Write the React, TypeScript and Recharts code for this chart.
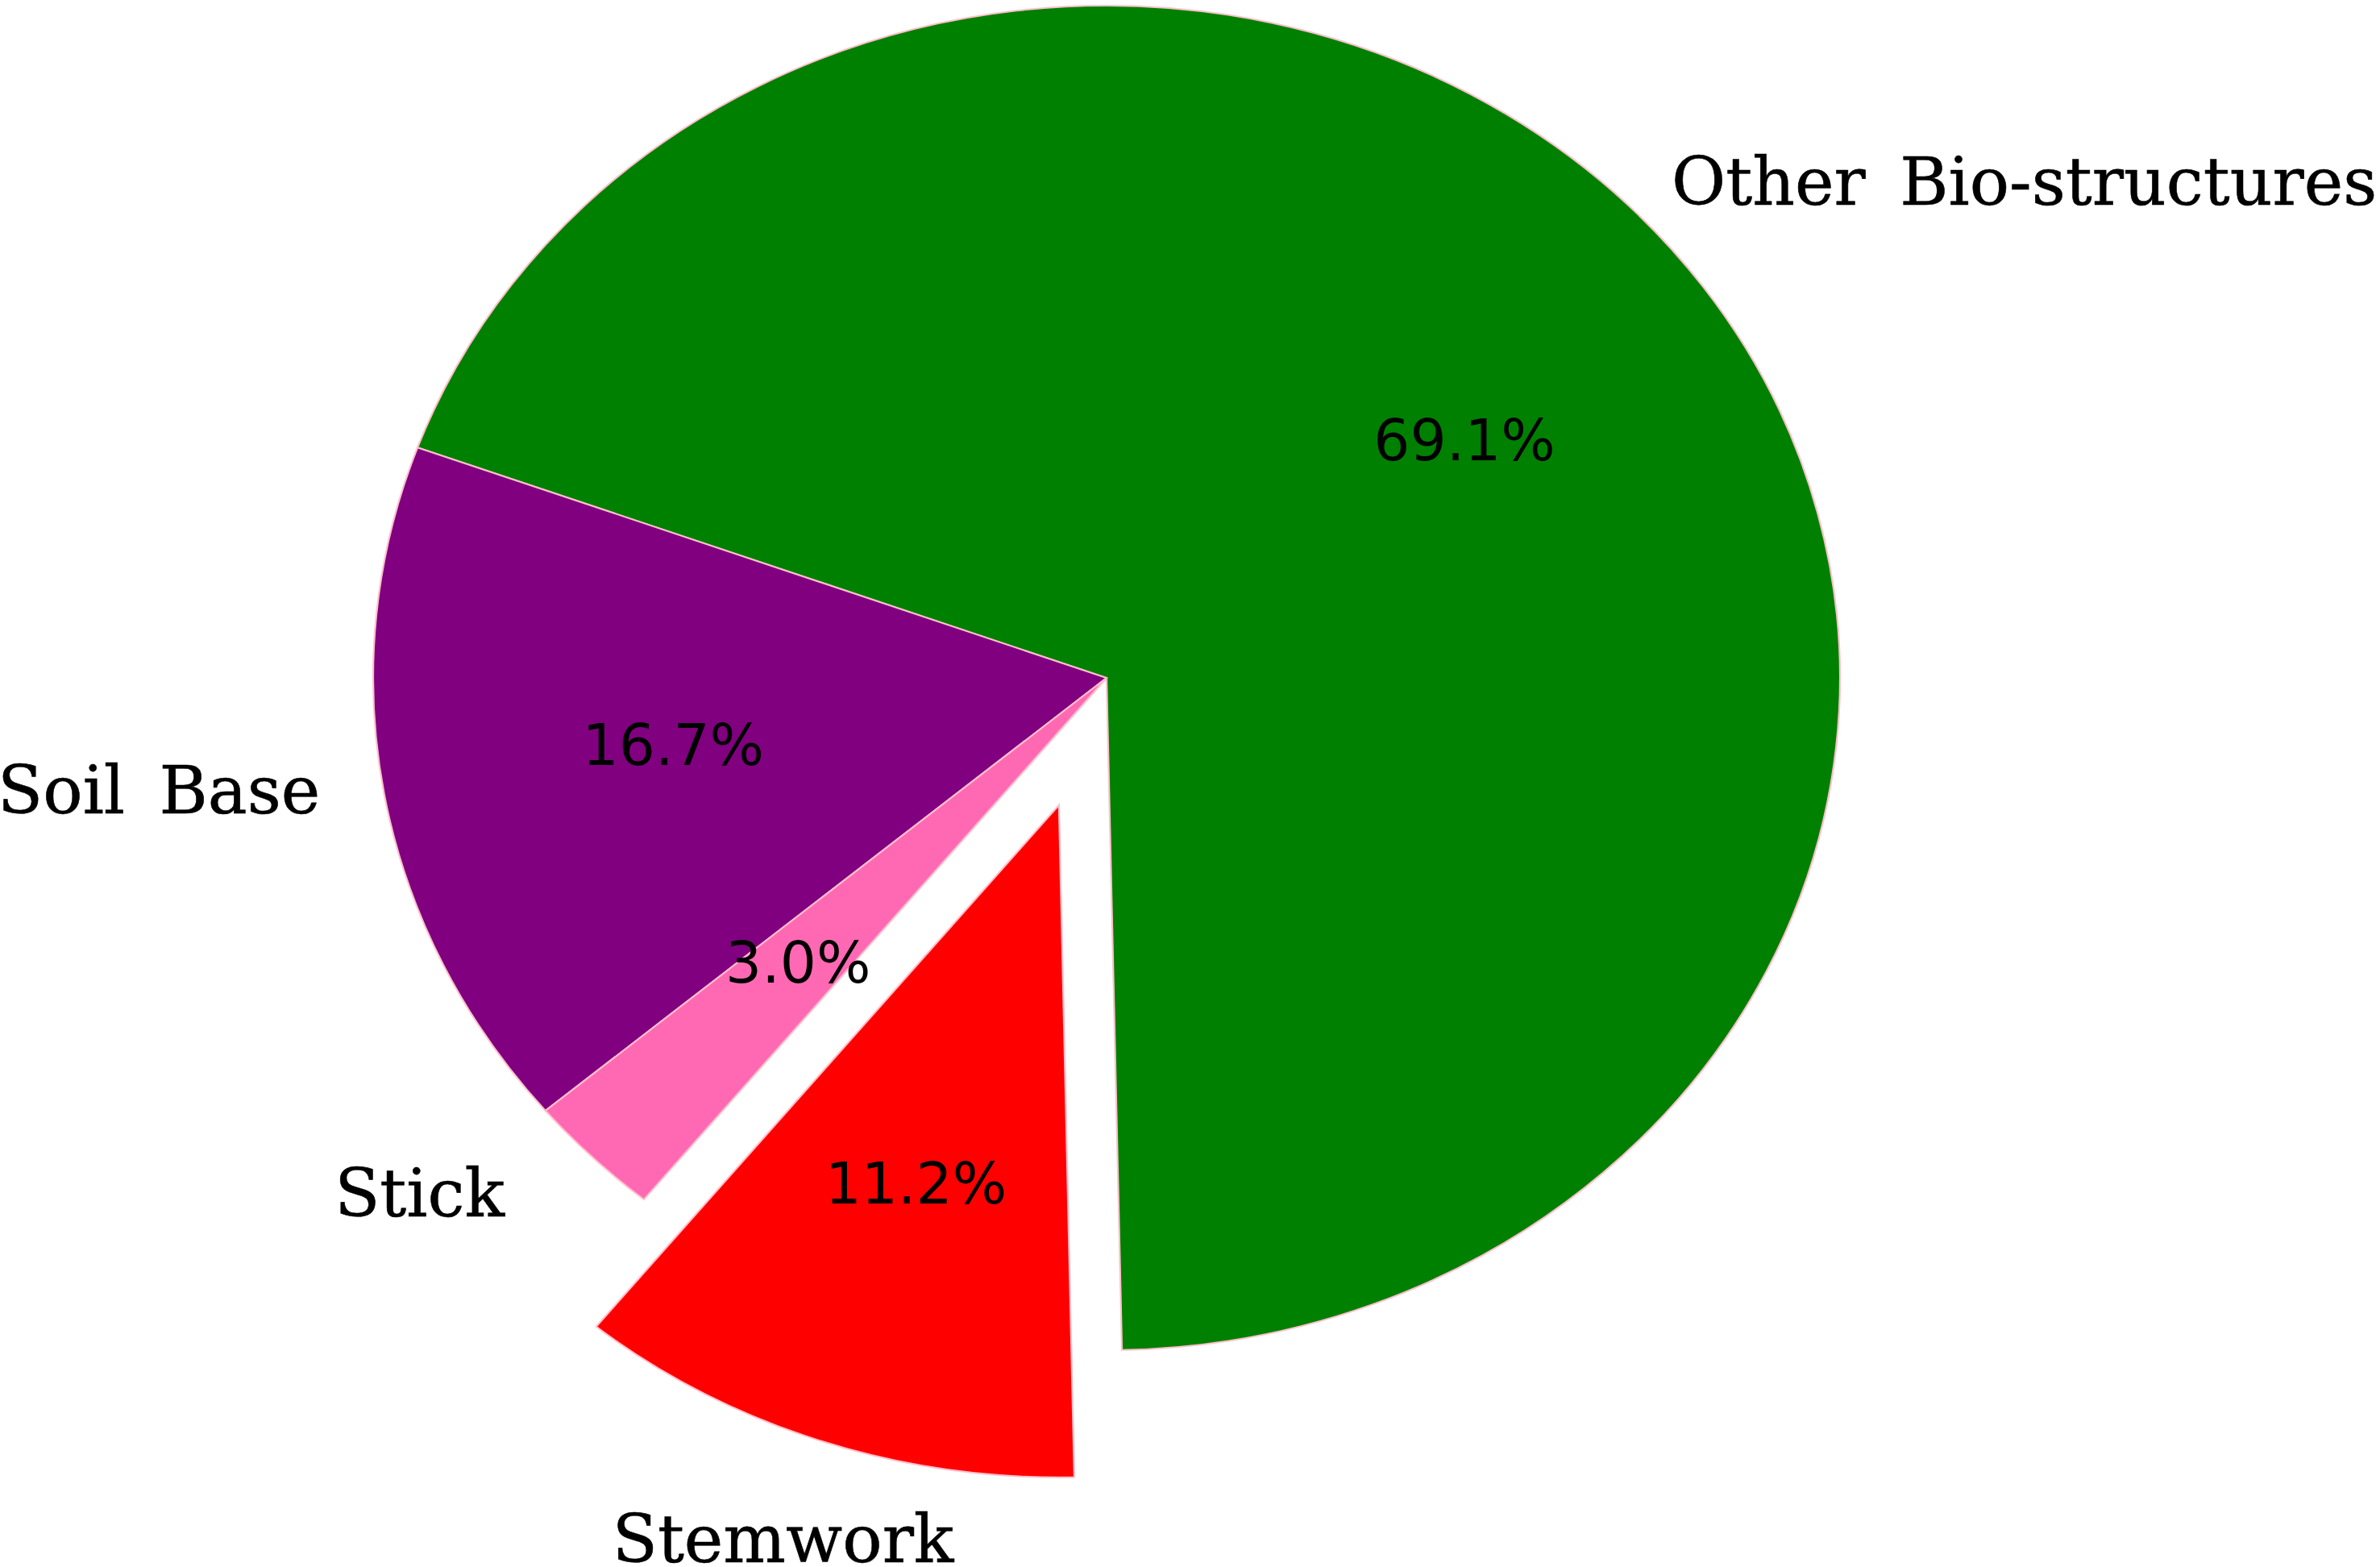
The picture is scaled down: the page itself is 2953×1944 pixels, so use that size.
import React from 'react';
import { PieChart, Pie, Cell } from 'recharts';

// slice data, counter-clockwise from the start angle
const categories = ['Other Bio-structures', 'Soil Base', 'Stick', 'Stemwork'];
const shares = [69.1, 16.7, 3.0, 11.2];
const colors = ['#008000', '#800080', '#FF69B4', '#FF0000'];
const explode = [0, 0, 0, 0.2];

const data = categories.map((name, i) => ({ name, value: shares[i] }));

const W = 2953;
const H = 1944;
// the pie in the reference is an ellipse, so draw a circle and stretch it in x
const RX = 910;
const RY = 834;
const SX = RX / RY;
const CX = 1373 / SX;
const CY = 841;
const START = 271.2;
const RAD = Math.PI / 180;

const total = shares.reduce((a, b) => a + b, 0);
const midAngles = shares.map(
  (v, i) => START + (360 * (shares.slice(0, i).reduce((a, b) => a + b, 0) + v / 2)) / total
);

// hand placement of the outer labels, in final px from the 1.1 radius point
const labelNudge: Record<string, { anchor: string; dx: number; dy: number }> = {
  'Other Bio-structures': { anchor: 'start', dx: -113, dy: -53 },
  'Soil Base': { anchor: 'end', dx: 10, dy: 8 },
  Stick: { anchor: 'end', dx: -45, dy: 14 },
  Stemwork: { anchor: 'middle', dx: -17, dy: 72 },
};

const flat = (x: number, y: number) =>
  `translate(${x} ${y}) scale(${1 / SX} 1) translate(${-x} ${-y})`;

const renderLabels = (only: number | null) => (props: any) => {
  const { cx, cy, midAngle, outerRadius, index, name, percent } = props;
  if (only === null ? index === 3 : index !== only) return null;
  const c = Math.cos(-midAngle * RAD);
  const s = Math.sin(-midAngle * RAD);
  const px = cx + 0.6 * outerRadius * c;
  const py = cy + 0.6 * outerRadius * s;
  const n = labelNudge[name];
  const lx = cx + 1.1 * outerRadius * c + n.dx / SX;
  const ly = cy + 1.1 * outerRadius * s + n.dy;
  return (
    <g>
      <text
        x={px}
        y={py}
        dy="0.3em"
        textAnchor="middle"
        fontFamily="DejaVu Sans"
        fontSize={71}
        fill="#000"
        transform={flat(px, py)}
      >
        {(percent * 100).toFixed(1) + '%'}
      </text>
      <text
        x={lx}
        y={ly}
        textAnchor={n.anchor}
        fontFamily="DejaVu Serif"
        fontSize={82}
        wordSpacing="0.2em"
        fill="#000"
        stroke="#000"
        strokeWidth={0.6}
        transform={flat(lx, ly)}
      >
        {name}
      </text>
    </g>
  );
};

const App: React.FC = () => {
  const e = explode[3] * RY;
  const ex = CX + e * Math.cos(-midAngles[3] * RAD);
  const ey = CY + e * Math.sin(-midAngles[3] * RAD);

  return (
    <div style={{ position: 'absolute', left: 0, top: 0, width: W, height: H, overflow: 'hidden', background: '#fff' }}>
      <div style={{ width: W / SX, height: H, transform: `scaleX(${SX})`, transformOrigin: '0 0' }}>
        <PieChart width={W / SX} height={H} margin={{ top: 0, right: 0, bottom: 0, left: 0 }}>
          <Pie
            data={data}
            dataKey="value"
            nameKey="name"
            cx={CX}
            cy={CY}
            outerRadius={RY}
            startAngle={START}
            endAngle={START + 360}
            label={renderLabels(null)}
            labelLine={false}
            isAnimationActive={false}
          >
            {data.map((d, i) => (
              <Cell
                key={d.name}
                fill={explode[i] ? 'none' : colors[i]}
                stroke={explode[i] ? 'none' : '#FFC0CB'}
                strokeWidth={2}
              />
            ))}
          </Pie>
          <Pie
            data={data}
            dataKey="value"
            nameKey="name"
            cx={ex}
            cy={ey}
            outerRadius={RY}
            startAngle={START}
            endAngle={START + 360}
            label={renderLabels(3)}
            labelLine={false}
            isAnimationActive={false}
          >
            {data.map((d, i) => (
              <Cell
                key={d.name}
                fill={explode[i] ? colors[i] : 'none'}
                stroke={explode[i] ? '#FFC0CB' : 'none'}
                strokeWidth={2}
              />
            ))}
          </Pie>
        </PieChart>
      </div>
    </div>
  );
};

export default App;
